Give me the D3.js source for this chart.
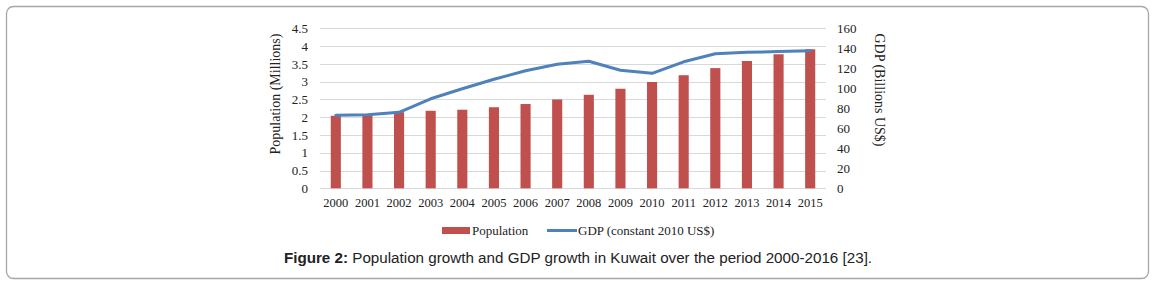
<!DOCTYPE html>
<html><head><meta charset="utf-8">
<script src="https://cdn.jsdelivr.net/npm/d3@7"></script>
<style>body{margin:0;background:#fff}svg{display:block}</style>
</head><body>
<script>
const years = ["2000","2001","2002","2003","2004","2005","2006","2007","2008","2009","2010","2011","2012","2013","2014","2015"];
const population = [2.04,2.06,2.14,2.18,2.21,2.28,2.37,2.50,2.63,2.80,2.99,3.18,3.38,3.58,3.77,3.91];
const gdp = [73,73.5,76,89.5,99.5,109,117.5,124,127,118,115,126.5,134.5,136,136.7,137.5];
const leftTicks = [0,0.5,1,1.5,2,2.5,3,3.5,4,4.5];
const rightTicks = [0,20,40,60,80,100,120,140,160];

const W=1155,H=286;
const svg=d3.select("body").append("svg").attr("width",W).attr("height",H);
svg.append("rect").attr("x",6.5).attr("y",6.5).attr("width",1142).attr("height",272).attr("rx",7)
  .attr("fill","#fff").attr("stroke","#a6a6a6").attr("stroke-width",1.3);

const L=320,R=826,T=28.3,B=188.3;
const x=d3.scaleBand().domain(years).range([L,R]).paddingInner(0.68).paddingOuter(0.34);
const yL=d3.scaleLinear().domain([0,4.5]).range([B,T]);
const yR=d3.scaleLinear().domain([0,160]).range([B,T]);
const serif="'Liberation Serif','Times New Roman',serif";

svg.append("g").selectAll("line").data(leftTicks).join("line")
  .attr("x1",L).attr("x2",R).attr("y1",d=>Math.round(yL(d))+0.5).attr("y2",d=>Math.round(yL(d))+0.5)
  .attr("stroke","#d9d9d9").attr("stroke-width",1);

const gl=svg.append("g").attr("transform",`translate(${L-12},0)`)
  .call(d3.axisLeft(yL).tickValues(leftTicks).tickSize(0).tickPadding(0).tickFormat(d=>String(d)));
gl.select(".domain").remove();
gl.selectAll("text").attr("font-family",serif).attr("font-size",13).attr("fill","#222");

const gr=svg.append("g").attr("transform",`translate(${R+11},0)`)
  .call(d3.axisRight(yR).tickValues(rightTicks).tickSize(0).tickPadding(0));
gr.select(".domain").remove();
gr.selectAll("text").attr("font-family",serif).attr("font-size",13).attr("fill","#222");

const gx=svg.append("g").attr("transform",`translate(0,${B+10})`)
  .call(d3.axisBottom(x).tickSize(0).tickPadding(0));
gx.select(".domain").remove();
gx.selectAll("text").attr("font-family",serif).attr("font-size",12.5).attr("fill","#222").attr("dy","0.71em");

svg.append("g").selectAll("rect").data(population).join("rect")
  .attr("x",(d,i)=>x(years[i])).attr("width",x.bandwidth())
  .attr("y",d=>yL(d)).attr("height",d=>B-yL(d)).attr("fill","#c0504d");

const line=d3.line().x((d,i)=>x(years[i])+x.bandwidth()/2).y(d=>yR(d));
svg.append("path").datum(gdp).attr("d",line).attr("fill","none")
  .attr("stroke","#4f81bd").attr("stroke-width",3).attr("stroke-linejoin","round").attr("stroke-linecap","round");

svg.append("text").attr("transform",`translate(280,94) rotate(-90)`).attr("text-anchor","middle")
  .attr("font-family",serif).attr("font-size",14).attr("fill","#222").text("Population (Millions)");
svg.append("text").attr("transform",`translate(875,90) rotate(90)`).attr("text-anchor","middle")
  .attr("font-family",serif).attr("font-size",14).attr("fill","#222").text("GDP (Billions US$)");

// legend
svg.append("rect").attr("x",442).attr("y",227).attr("width",28).attr("height",7).attr("fill","#c0504d");
svg.append("text").attr("x",472).attr("y",235).attr("font-family",serif).attr("font-size",13).attr("fill","#222").text("Population");
svg.append("line").attr("x1",547).attr("x2",577).attr("y1",230.5).attr("y2",230.5).attr("stroke","#4f81bd").attr("stroke-width",3);
svg.append("text").attr("x",578).attr("y",235).attr("font-family",serif).attr("font-size",13).attr("fill","#222").text("GDP (constant 2010 US$)");

// caption
const cap=svg.append("text").attr("x",578).attr("y",263).attr("text-anchor","middle")
  .attr("font-family","'Liberation Sans',Arial,sans-serif").attr("font-size",15.2).attr("fill","#222");
cap.append("tspan").attr("font-weight","bold").text("Figure 2:");
cap.append("tspan").text(" Population growth and GDP growth in Kuwait over the period 2000-2016 [23].");
</script>
</body></html>
